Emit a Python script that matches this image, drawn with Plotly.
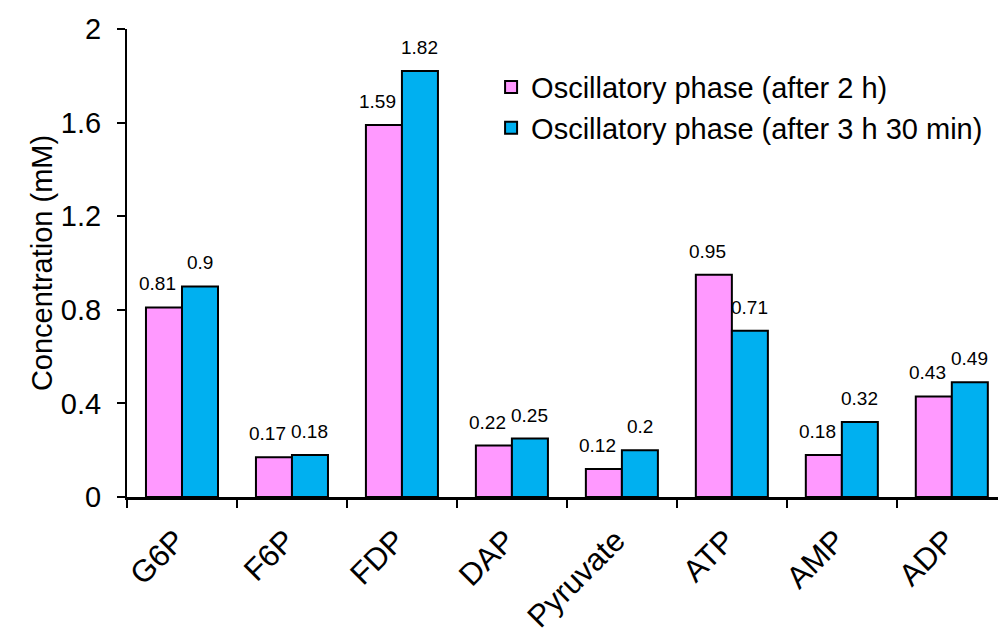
import plotly.graph_objects as go

categories = ["G6P", "F6P", "FDP", "DAP", "Pyruvate", "ATP", "AMP", "ADP"]
after_2h = [0.81, 0.17, 1.59, 0.22, 0.12, 0.95, 0.18, 0.43]
after_3h30 = [0.9, 0.18, 1.82, 0.25, 0.2, 0.71, 0.32, 0.49]
series_names = ["Oscillatory phase (after 2 h)", "Oscillatory phase (after 3 h 30 min)"]
y_ticks = [0, 0.4, 0.8, 1.2, 1.6, 2]
y_tick_text = ["0", "0.4", "0.8", "1.2", "1.6", "2"]

FONT = "Liberation Sans, Arial, sans-serif"
xpos = list(range(len(categories)))

BARGAP = 0.345
half = (1 - BARGAP) / 4  # centre offset of each bar within a group

fig = go.Figure()
series = [(series_names[0], after_2h, "#FF99FF", -half, -6),
          (series_names[1], after_3h30, "#00B0F0", half, 0)]
for name, vals, color, off, xs in series:
    fig.add_trace(go.Bar(
        x=xpos, y=vals, name=name,
        marker=dict(color=color, line=dict(color="black", width=2)),
    ))
    for xi, v in zip(xpos, vals):
        fig.add_annotation(x=xi + off, y=v, text=f"{v:g}", showarrow=False,
                           yanchor="bottom", xanchor="center", yshift=11, xshift=xs,
                           font=dict(family=FONT, size=19, color="black"))

fig.update_layout(
    width=998, height=630,
    margin=dict(l=127, r=0, t=29, b=133),
    paper_bgcolor="white", plot_bgcolor="white",
    barmode="group", bargap=BARGAP, bargroupgap=0,
    font=dict(family=FONT, color="black"),
    showlegend=True,
    legend=dict(x=0.418, y=0.93, xanchor="left", yanchor="top",
                font=dict(family=FONT, size=29, color="black"),
                bgcolor="rgba(0,0,0,0)", tracegroupgap=0, itemwidth=30),
)
fig.update_xaxes(
    range=[-0.5, 7.42], tickmode="array", tickvals=xpos, ticktext=categories,
    tickangle=-45, tickfont=dict(family=FONT, size=31, color="black"),
    ticks="outside", ticklen=10, tickcolor="rgba(0,0,0,0)", ticklabelshift=-6,
    minor=dict(ticks="outside", ticklen=8, tickwidth=2, tickcolor="black",
               tick0=-0.5, dtick=1, showgrid=False),
    showline=True, linecolor="black", linewidth=3, showgrid=False, zeroline=False,
    automargin=False,
)
fig.update_yaxes(
    range=[0, 2], tickmode="array", tickvals=y_ticks, ticktext=y_tick_text,
    tickfont=dict(family=FONT, size=29, color="black"),
    ticks="outside", ticklen=8, tickwidth=2, tickcolor="black",
    showline=True, linecolor="black", linewidth=2, showgrid=False, zeroline=False,
    title=dict(text="Concentration (mM)", font=dict(family=FONT, size=29, color="black"), standoff=0),
    ticklabelstandoff=10, automargin=False,
)
fig.write_html("out.html")
